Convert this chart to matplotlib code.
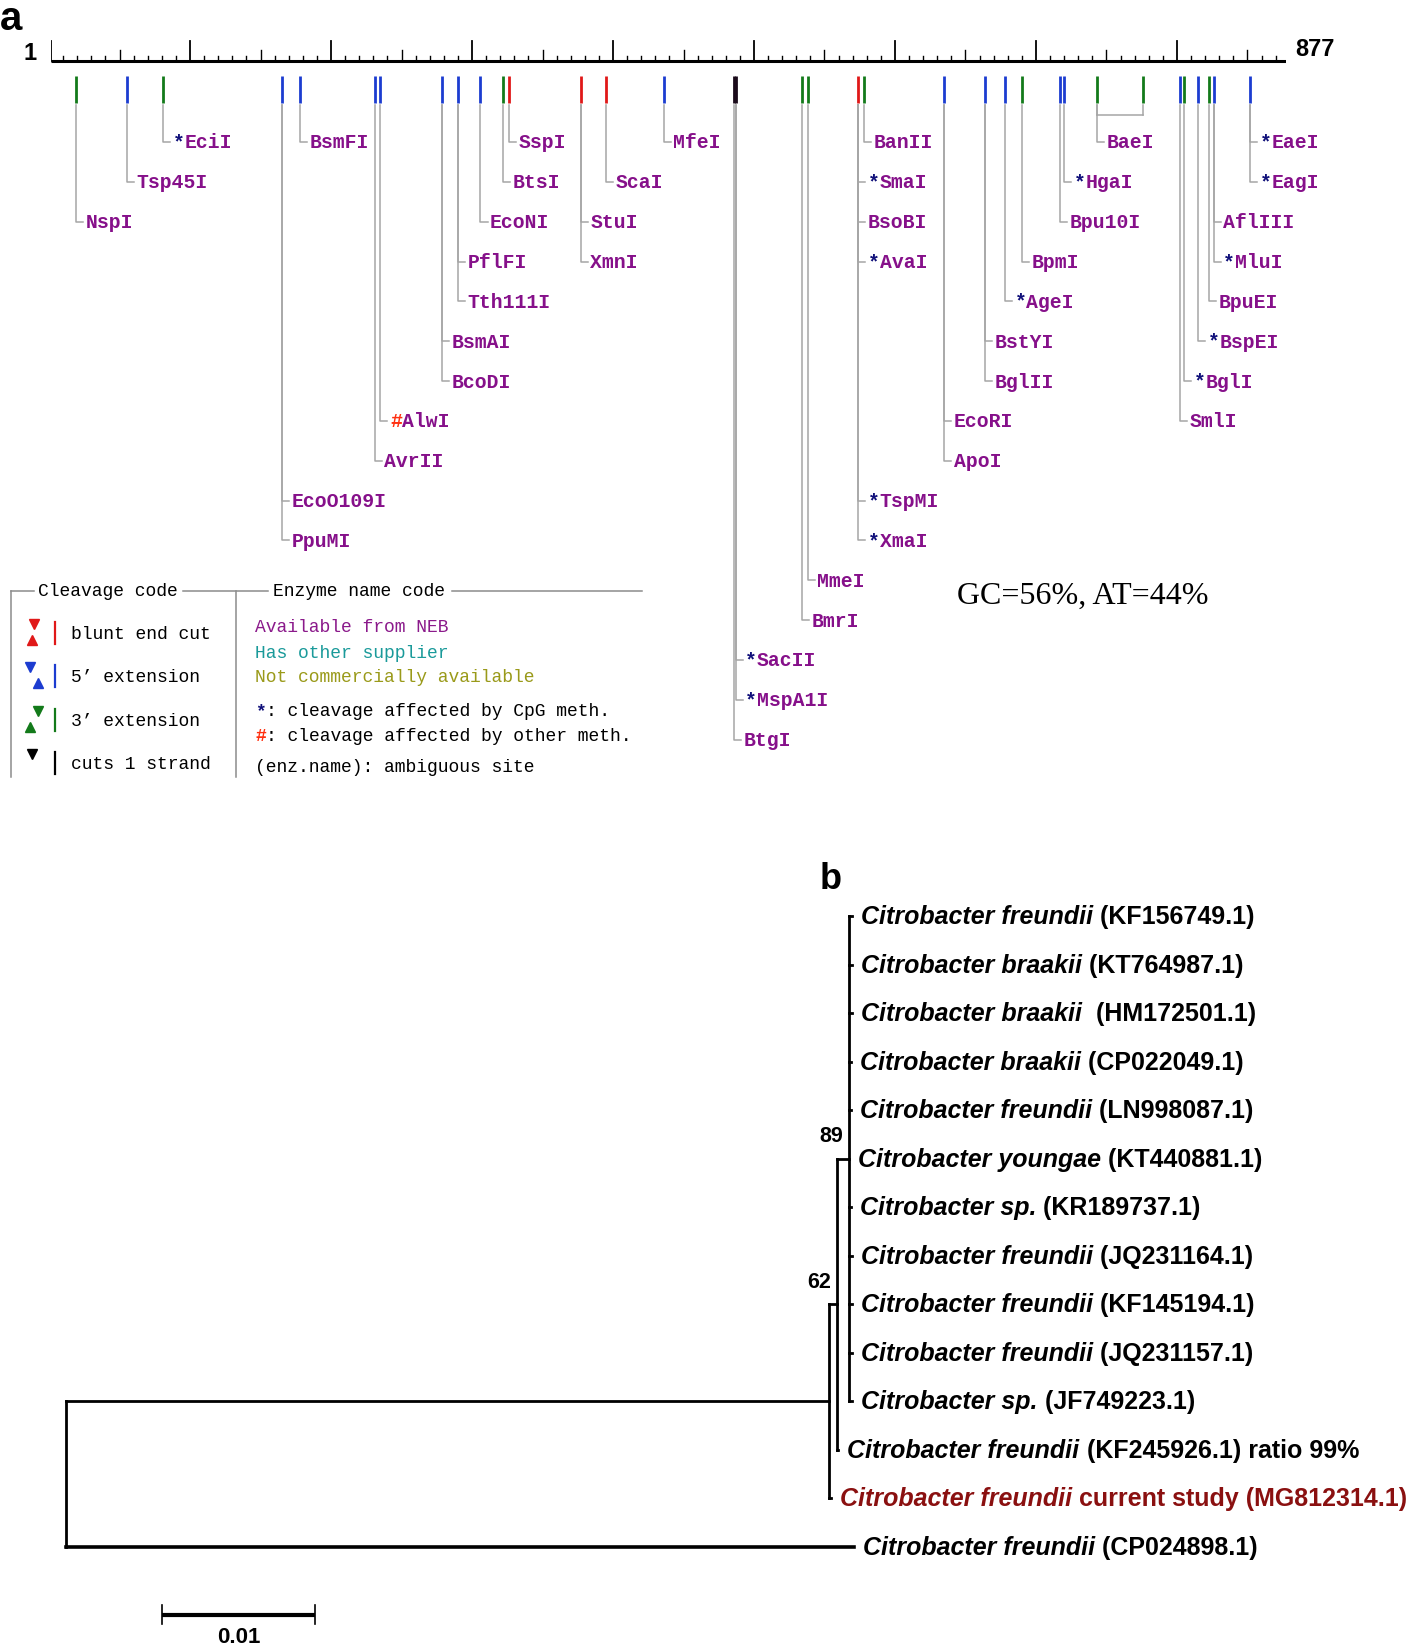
import numpy as np
import matplotlib.pyplot as plt
from matplotlib.transforms import offset_copy

plt.rcParams['font.family'] = ['Liberation Sans', 'DejaVu Sans']

W, H = 1418, 1649

# ---------------- panel a : restriction map ----------------
seq_len = 877
cut_bp = [19, 55, 81, 165, 178, 231, 235, 279, 290, 306, 322, 326, 377, 395, 436,
          486, 487, 534, 538, 574, 578, 635, 664, 678, 690, 717, 720, 743, 776,
          802, 805, 815, 823, 826, 852]
cut_type = ['3', '5', '3', '5', '5', '5', '5', '5', '5', '5', '3', 'b', 'b', 'b', '5',
            'n', 'n', '3', '3', 'b', '3', '5', '5', '5', '3', '5', '5', '3', '3',
            '5', '3', '5', '3', '5', '5']

enz_name = ['*EciI', 'Tsp45I', 'NspI', 'BsmFI', 'EcoO109I', 'PpuMI', '#AlwI', 'AvrII',
            'BsmAI', 'BcoDI', 'PflFI', 'Tth111I', 'EcoNI', 'BtsI', 'SspI', 'StuI',
            'XmnI', 'ScaI', 'MfeI', '*SacII', '*MspA1I', 'BtgI', 'MmeI', 'BmrI',
            'BanII', '*SmaI', 'BsoBI', '*AvaI', '*TspMI', '*XmaI', 'EcoRI', 'ApoI',
            'BstYI', 'BglII', '*AgeI', 'BpmI', 'Bpu10I', '*HgaI', 'BaeI', 'SmlI',
            '*BglI', '*BspEI', 'BpuEI', 'AflIII', '*MluI', '*EaeI', '*EagI']
enz_bp = [81, 55, 19, 178, 165, 165, 235, 231,
          279, 279, 290, 290, 306, 322, 326, 377,
          377, 395, 436, 487, 487, 486, 538, 534,
          578, 574, 574, 574, 574, 574, 635, 635,
          664, 664, 678, 690, 717, 720, 743, 802,
          805, 815, 823, 826, 826, 852, 852]
enz_row = [1, 2, 3, 1, 10, 11, 8, 9,
           6, 7, 4, 5, 3, 2, 1, 3,
           4, 2, 1, 14, 15, 16, 12, 13,
           1, 2, 3, 4, 10, 11, 8, 9,
           6, 7, 5, 4, 3, 2, 1, 8,
           7, 6, 5, 3, 4, 1, 2]
bae_sites = [743, 776]
gc_pct, at_pct = 56, 44

# ---------------- panel b : phylogenetic tree ----------------
node_parent = [-1, 0, 1, 2]
node_len = [0.0, 0.0500, 0.0005, 0.0008]
node_support = ['', '', '62', '89']

leaf_species = ['Citrobacter freundii', 'Citrobacter braakii', 'Citrobacter braakii',
                'Citrobacter braakii', 'Citrobacter freundii', 'Citrobacter youngae',
                'Citrobacter sp.', 'Citrobacter freundii', 'Citrobacter freundii',
                'Citrobacter freundii', 'Citrobacter sp.', 'Citrobacter freundii',
                'Citrobacter freundii', 'Citrobacter freundii']
leaf_suffix = [' (KF156749.1)', ' (KT764987.1)', '  (HM172501.1)', ' (CP022049.1)',
               ' (LN998087.1)', ' (KT440881.1)', ' (KR189737.1)', ' (JQ231164.1)',
               ' (KF145194.1)', ' (JQ231157.1)', ' (JF749223.1)',
               ' (KF245926.1) ratio 99%', ' current study (MG812314.1)', ' (CP024898.1)']
leaf_parent = [3, 3, 3, 3, 3, 3, 3, 3, 3, 3, 3, 2, 1, 0]
leaf_len = [0.0002, 0.0002, 0.0002, 0.0001, 0.0001, 0.0, 0.0001, 0.0002, 0.0002,
            0.0002, 0.0002, 0.0001, 0.0001, 0.0516]
highlight = 12
scale_len = 0.01

# ---------------- styling ----------------
mark_col = {'b': '#e01818', '5': '#1c3cd0', '3': '#137a1a', 'n': '#1a0a1a'}
purple = '#86108a'
star_col = {'*': '#10107a', '#': '#ff3010'}
grey = '#a6a6a6'
mono = 'Liberation Mono'

fig = plt.figure(figsize=(W / 100, H / 100), dpi=100)

# pixel axes for decorations
ax_px = fig.add_axes([0, 0, 1, 1])
ax_px.set_xlim(0, W)
ax_px.set_ylim(H, 0)
ax_px.axis('off')

# restriction map axes: x in bp, y in pixels
ruler_x0, ruler_x1 = 50.5, 1285.5
ax_a = fig.add_axes([ruler_x0 / W, 0, (ruler_x1 - ruler_x0) / W, 1])
ax_a.set_xlim(1, seq_len)
ax_a.set_ylim(H, 0)
ax_a.axis('off')
ax_a.patch.set_alpha(0)

ruler_y = 62
ax_a.plot([1, seq_len], [ruler_y, ruler_y], color='black', lw=2.2, solid_capstyle='butt')
ax_a.plot([1, 1], [42, ruler_y], color='black', lw=1.3)
for t in range(10, seq_len, 10):
    top = 42 if t % 100 == 0 else (51 if t % 50 == 0 else 57)
    ax_a.plot([t, t], [top, ruler_y], color='black', lw=1.3 if t % 100 == 0 else 1.0)
ax_px.text(37, 53, '1', ha='right', va='center', fontsize=17, fontweight='bold')
ax_px.text(1295, 50, str(seq_len), ha='left', va='center', fontsize=17, fontweight='bold')

mark_top, mark_bot = 77, 104
row0, row_gap = 143, 39.84
elbow = 5.0
for bp, kind in zip(cut_bp, cut_type):
    ax_a.plot([bp, bp], [mark_top, mark_bot], color=mark_col[kind], lw=2.0,
              solid_capstyle='butt')

# BaeI cuts at two sites joined by a bracket
bracket_y = 116
for bp in bae_sites:
    ax_a.plot([bp, bp], [mark_bot + 2, bracket_y], color=grey, lw=1.1)
ax_a.plot(bae_sites, [bracket_y, bracket_y], color=grey, lw=1.1)

for name, bp, row in zip(enz_name, enz_bp, enz_row):
    y = row0 + (row - 1) * row_gap
    ax_a.plot([bp, bp, bp + elbow], [mark_bot + 2, y, y], color=grey, lw=1.1)
    tx = bp + elbow + 1.8
    if name[0] in star_col:
        t = ax_a.text(tx, y, name[0], color=star_col[name[0]], family=mono,
                      fontweight='bold', fontsize=14.2, ha='left', va='center')
        ax_a.annotate(name[1:], xy=(1, 0), xycoords=t, ha='left', va='bottom',
                      color=purple, family=mono, fontweight='bold', fontsize=14.2)
    else:
        ax_a.text(tx, y, name, color=purple, family=mono, fontweight='bold',
                  fontsize=14.2, ha='left', va='center')

ax_px.text(957, 596, 'GC=%d%%, AT=%d%%' % (gc_pct, at_pct), family='Liberation Serif',
           fontsize=23, ha='left', va='center')

# legend box
lg = '#8c8c8c'
ax_px.plot([11, 11], [592, 778], color=lg, lw=1.1)
ax_px.plot([236, 236], [592, 778], color=lg, lw=1.1)
for xa, xb in [(11, 34), (183, 268), (452, 642)]:
    ax_px.plot([xa, xb], [592, 592], color=lg, lw=1.1)
ax_px.text(38, 592, 'Cleavage code', family=mono, fontsize=13, va='center')
ax_px.text(273, 592, 'Enzyme name code', family=mono, fontsize=13, va='center')

cleave_text = ['blunt end cut', '5\u2019 extension', '3\u2019 extension', 'cuts 1 strand']
cleave_kind = ['b', '5', '3', 'n']
cleave_y = [635, 678, 722, 765]
tri_dx = [(34, 32), (30, 38), (38, 30), (32, None)]
for txt, kind, y, (xt, xb) in zip(cleave_text, cleave_kind, cleave_y, tri_dx):
    c = mark_col[kind] if kind != 'n' else 'black'
    ax_px.plot([xt], [y - 10], marker='v', ms=7, color=c, mec=c)
    if xb is not None:
        ax_px.plot([xb], [y + 6], marker='^', ms=7, color=c, mec=c)
    ax_px.plot([55, 55], [y - 12, y + 10], color=c, lw=1.6)
    ax_px.text(71, y, txt, family=mono, fontsize=13, va='center')

code_text = ['Available from NEB', 'Has other supplier', 'Not commercially available']
code_col = ['#8b1a8b', '#1a9a9a', '#9a9a1a']
code_y = [628, 654, 678]
for txt, c, y in zip(code_text, code_col, code_y):
    ax_px.text(255, y, txt, family=mono, fontsize=13, va='center', color=c)
for sym, txt, y in [('*', ': cleavage affected by CpG meth.', 712),
                    ('#', ': cleavage affected by other meth.', 737)]:
    t = ax_px.text(255, y, sym, family=mono, fontsize=13, va='center', color=star_col[sym],
                   fontweight='bold')
    ax_px.annotate(txt, xy=(1, 0), xycoords=t, family=mono, fontsize=13, va='bottom')
ax_px.text(255, 768, '(enz.name): ambiguous site', family=mono, fontsize=13, va='center')

ax_px.text(0, 0, 'a', fontsize=29, fontweight='bold', ha='left', va='top')
ax_px.text(831, 880, 'b', fontsize=26, fontweight='bold', ha='center', va='center')

# ---------------- tree ----------------
px_per_unit = 15260
root_px, top_px, leaf_gap = 66.3, 917.3, 48.5
n_leaf = len(leaf_species)
xmax = 0.06
ax_b = fig.add_axes([root_px / W, 1 - (top_px + (n_leaf - 1) * leaf_gap) / H,
                     xmax * px_per_unit / W, (n_leaf - 1) * leaf_gap / H])
ax_b.set_xlim(0, xmax)
ax_b.set_ylim(n_leaf - 1, 0)
ax_b.axis('off')
ax_b.patch.set_alpha(0)

n_node = len(node_parent)
node_x = np.zeros(n_node)
for i in range(1, n_node):
    node_x[i] = node_x[node_parent[i]] + node_len[i]
leaf_x = [node_x[p] + l for p, l in zip(leaf_parent, leaf_len)]
leaf_y = list(range(n_leaf))
node_y = np.zeros(n_node)
for i in reversed(range(n_node)):
    ys = [leaf_y[j] for j in range(n_leaf) if leaf_parent[j] == i]
    ys += [node_y[k] for k in range(n_node) if node_parent[k] == i]
    node_y[i] = (min(ys) + max(ys)) / 2
    ax_b.plot([node_x[i], node_x[i]], [min(ys), max(ys)], color='black', lw=2.0,
              solid_capstyle='projecting', clip_on=False)
for k in range(1, n_node):
    p = node_parent[k]
    ax_b.plot([node_x[p], node_x[k]], [node_y[k], node_y[k]], color='black', lw=2.0,
              clip_on=False)
    if node_support[k]:
        ax_b.annotate(node_support[k], xy=(node_x[k], node_y[k]), xytext=(-4.5, 16.5),
                      textcoords='offset points', ha='right', va='center',
                      fontsize=15.5, fontweight='bold')
for j in range(n_leaf):
    p = leaf_parent[j]
    lw = 2.6 if p == 0 else 2.0
    ax_b.plot([node_x[p], leaf_x[j]], [leaf_y[j], leaf_y[j]], color='black', lw=lw,
              clip_on=False)
    col = '#8a1010' if j == highlight else 'black'
    t = ax_b.annotate(leaf_species[j], xy=(leaf_x[j], leaf_y[j]), xytext=(6.5, 0),
                      textcoords='offset points', ha='left', va='center',
                      fontsize=18, fontweight='bold', style='italic', color=col)
    ax_b.annotate(leaf_suffix[j], xy=(1, 0), xycoords=t, ha='left', va='bottom',
                  fontsize=18, fontweight='bold', color=col)

# scale bar
sb_x0 = 0.0063
sb_y = (1615.5 - top_px) / leaf_gap
ax_b.plot([sb_x0, sb_x0 + scale_len], [sb_y, sb_y], color='black', lw=3.0, clip_on=False,
          solid_capstyle='butt')
for xx in [sb_x0, sb_x0 + scale_len]:
    ax_b.plot([xx, xx], [sb_y - 0.19, sb_y + 0.19], color='black', lw=1.2, clip_on=False)
ax_b.text(sb_x0 + scale_len / 2, sb_y + 0.45, '%.2f' % scale_len, ha='center', va='center',
          fontsize=16, fontweight='bold')

fig.savefig('out.png', dpi=100)
